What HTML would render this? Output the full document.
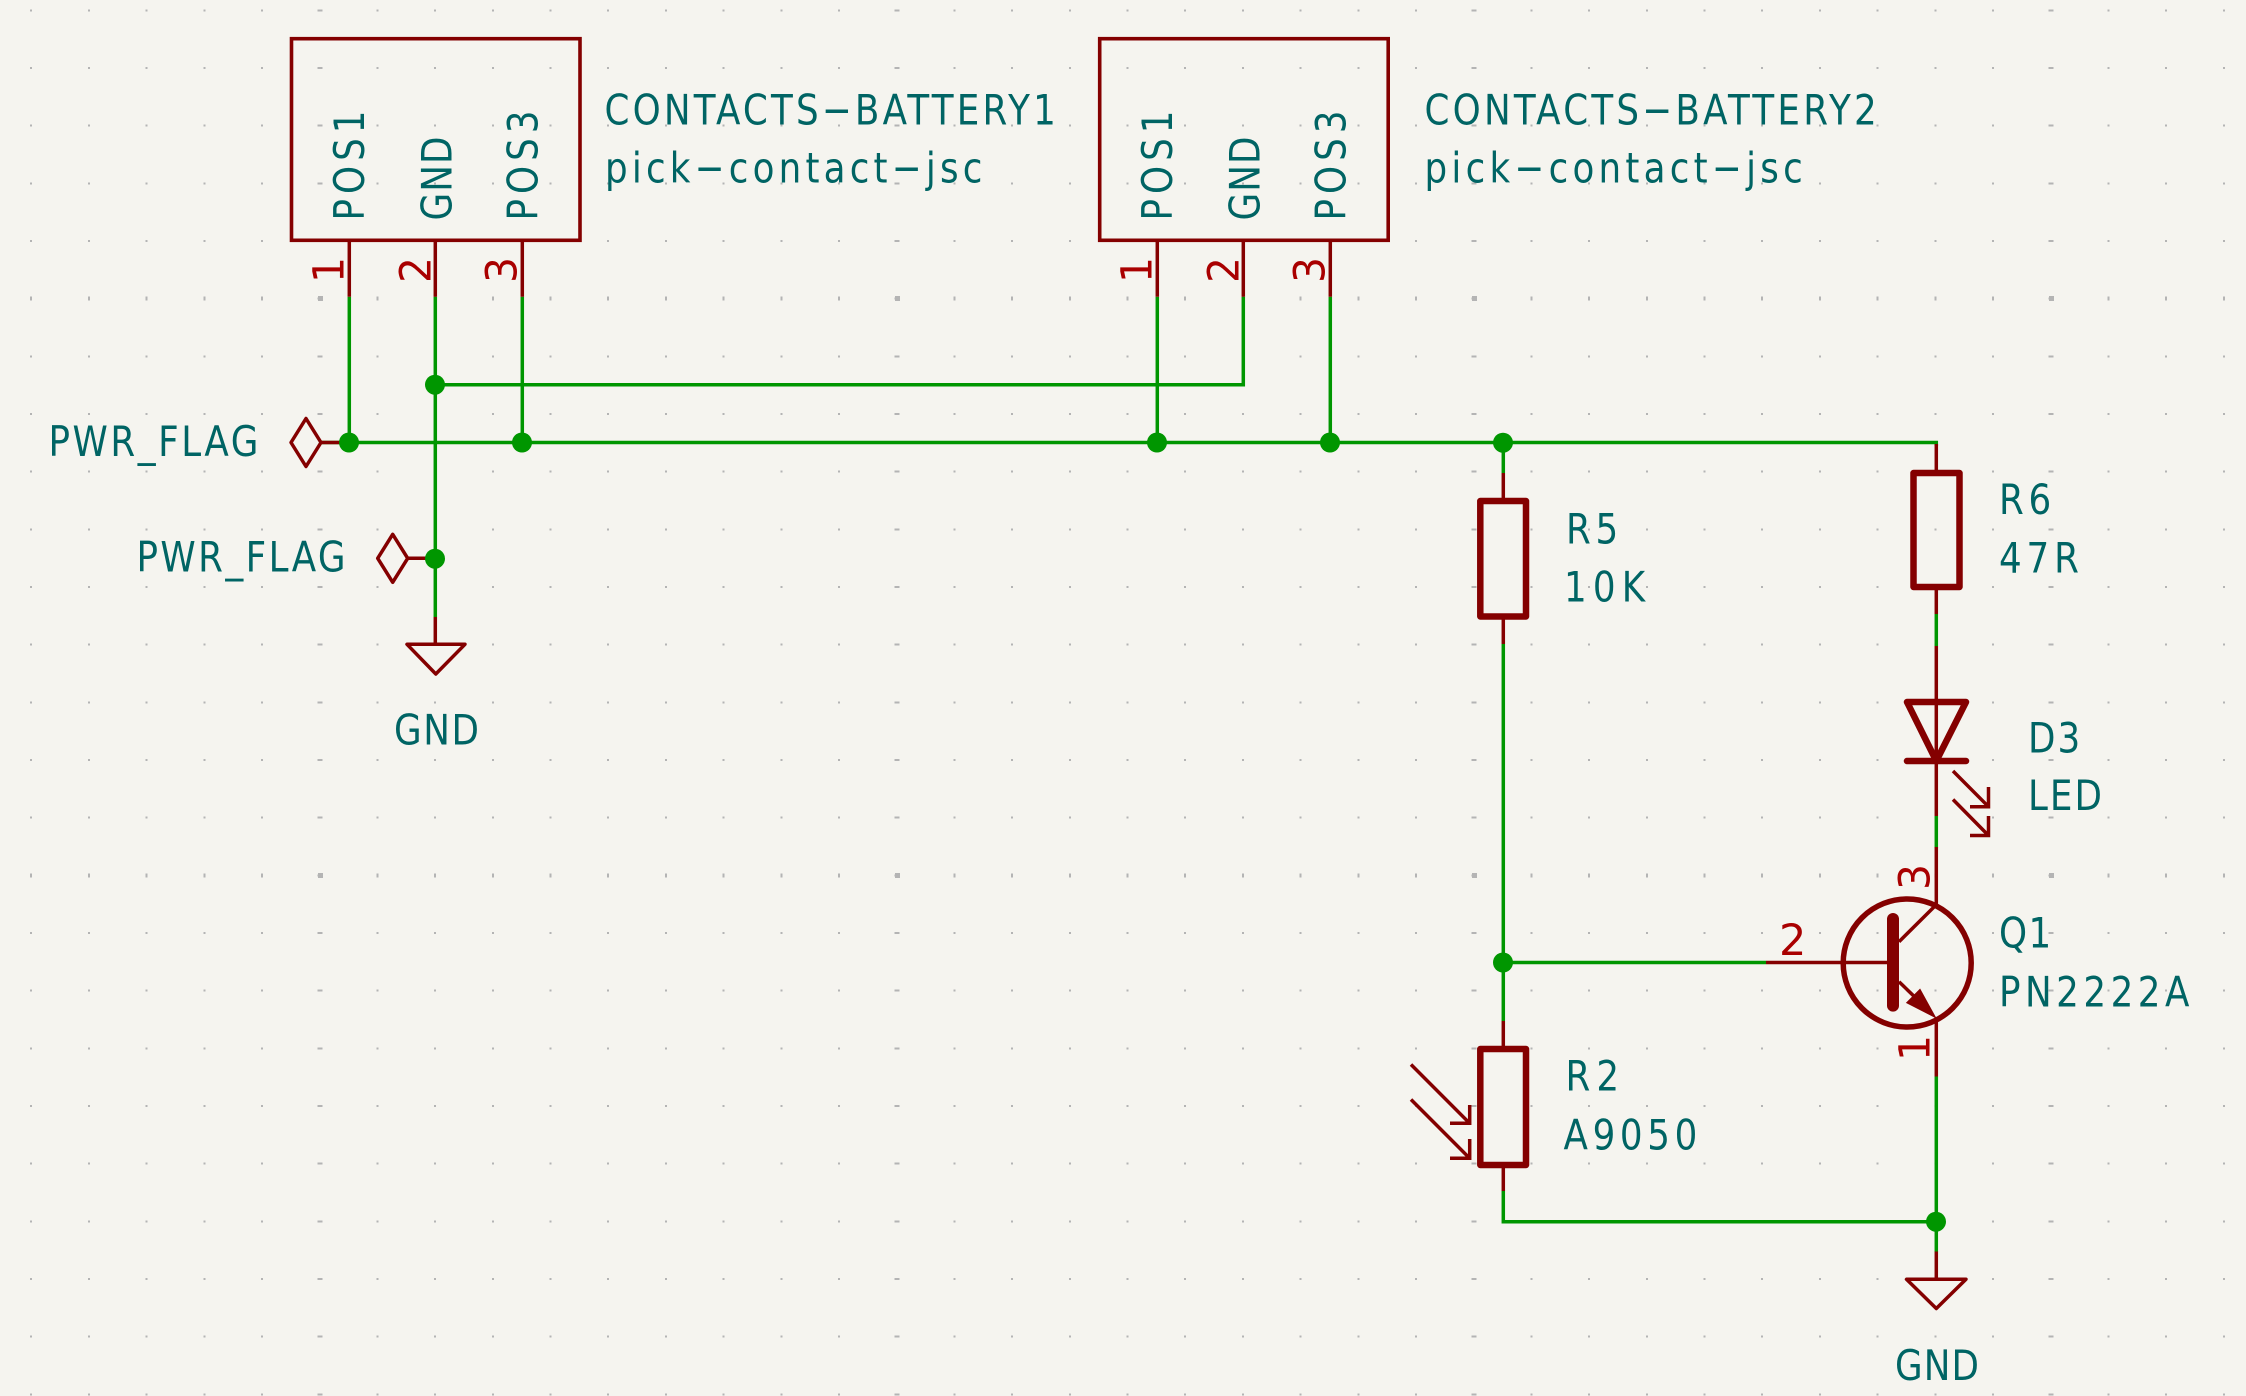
<!DOCTYPE html>
<html>
<head>
<meta charset="utf-8">
<title>Schematic</title>
<style>
html,body{margin:0;padding:0;background:#f5f4ef;width:2246px;height:1396px;overflow:hidden}
svg{display:block}
text{font-family:"DejaVu Sans","Liberation Sans",sans-serif;font-size:42px;fill:#006464}
.pn{fill:#a90000;font-size:43px}
.w{stroke:#009600;stroke-width:3.5;fill:none;stroke-linejoin:miter}
.l{stroke:#840000;stroke-width:3.5;fill:none}
.b{stroke:#840000;stroke-width:6.5;fill:none;stroke-linejoin:round;stroke-linecap:round}
.g{stroke:#b4b4b4;stroke-width:2;stroke-dasharray:2 55.7;shape-rendering:crispEdges}
.gr{stroke:#b4b4b4;stroke-width:2;stroke-dasharray:2 55.67;shape-rendering:crispEdges}
</style>
</head>
<body>
<svg width="2246" height="1396" viewBox="0 0 2246 1396" xmlns="http://www.w3.org/2000/svg">
<rect width="2246" height="1396" fill="#f5f4ef"/>
<!-- grid rows -->
<g class="g">
<line x1="30.2" x2="2246" y1="10.3" y2="10.3"/>
<line x1="30.2" x2="2246" y1="68" y2="68"/>
<line x1="30.2" x2="2246" y1="125.6" y2="125.6"/>
<line x1="30.2" x2="2246" y1="183.3" y2="183.3"/>
<line x1="30.2" x2="2246" y1="241" y2="241"/>
<line x1="30.2" x2="2246" y1="298.6" y2="298.6" style="stroke-width:4"/>
<line x1="30.2" x2="2246" y1="356.3" y2="356.3"/>
<line x1="30.2" x2="2246" y1="414" y2="414"/>
<line x1="30.2" x2="2246" y1="471.6" y2="471.6"/>
<line x1="30.2" x2="2246" y1="529.3" y2="529.3"/>
<line x1="30.2" x2="2246" y1="587" y2="587"/>
<line x1="30.2" x2="2246" y1="644.6" y2="644.6"/>
<line x1="30.2" x2="2246" y1="702.3" y2="702.3"/>
<line x1="30.2" x2="2246" y1="760" y2="760"/>
<line x1="30.2" x2="2246" y1="817.6" y2="817.6"/>
<line x1="30.2" x2="2246" y1="875.3" y2="875.3" style="stroke-width:4"/>
<line x1="30.2" x2="2246" y1="933" y2="933"/>
<line x1="30.2" x2="2246" y1="990.6" y2="990.6"/>
<line x1="30.2" x2="2246" y1="1048.3" y2="1048.3"/>
<line x1="30.2" x2="2246" y1="1106" y2="1106"/>
<line x1="30.2" x2="2246" y1="1163.6" y2="1163.6"/>
<line x1="30.2" x2="2246" y1="1221.3" y2="1221.3"/>
<line x1="30.2" x2="2246" y1="1279" y2="1279"/>
<line x1="30.2" x2="2246" y1="1336.6" y2="1336.6"/>
<line x1="30.2" x2="2246" y1="1394.3" y2="1394.3"/>
</g>
<!-- major columns -->
<g class="gr" style="stroke-width:5">
<line x1="320" x2="320" y1="9.3" y2="1396"/>
<line x1="897" x2="897" y1="9.3" y2="1396"/>
<line x1="1474" x2="1474" y1="9.3" y2="1396"/>
<line x1="2051" x2="2051" y1="9.3" y2="1396"/>
</g>
<g fill="#b4b4b4" shape-rendering="crispEdges">
<rect x="318" y="296" width="5" height="5"/><rect x="895" y="296" width="5" height="5"/><rect x="1472" y="296" width="5" height="5"/><rect x="2049" y="296" width="5" height="5"/>
<rect x="318" y="873" width="5" height="5"/><rect x="895" y="873" width="5" height="5"/><rect x="1472" y="873" width="5" height="5"/><rect x="2049" y="873" width="5" height="5"/>
</g>

<!-- wires -->
<g class="w">
<path d="M349.3 296.7V442.5"/>
<path d="M522.3 296.7V442.5"/>
<path d="M435.3 296.7V617"/>
<path d="M435.3 384.7H1243.3V296.7"/>
<path d="M1157.3 296.7V442.5"/>
<path d="M1330.3 296.7V442.5"/>
<path d="M321 442.5H1936.3V446"/>
<path d="M1503.3 442.5V473"/>
<path d="M1503.3 644V1021"/>
<path d="M1503.3 962.5H1766"/>
<path d="M1503.3 1191V1221.7H1936.3"/>
<path d="M1936.3 614V646"/>
<path d="M1936.3 816V847.5"/>
<path d="M1936.3 1076.5V1252"/>
</g>

<!-- symbol thin lines -->
<g class="l">
<rect x="291.5" y="38.7" width="288.5" height="201.6" stroke-width="3.6"/>
<rect x="1099.7" y="38.7" width="288.5" height="201.6" stroke-width="3.6"/>
<path d="M349.3 240V296.7M435.3 240V296.7M522.3 240V296.7"/>
<path d="M1157.3 240V296.7M1243.3 240V296.7M1330.3 240V296.7"/>
<path d="M321 442.5H349"/>
<path d="M407.7 558.3H435"/>
<path d="M306 418.5L321 442.5L306 466.5L291 442.5Z" stroke-linejoin="round"/>
<path d="M392.7 534.3L407.7 558.3L392.7 582.3L377.7 558.3Z" stroke-linejoin="round"/>
<path d="M435.3 617V644.3"/>
<path d="M407 644.3H465L435.8 674Z" stroke-linejoin="round"/>
<path d="M1936.3 1251.5V1279.3"/>
<path d="M1906.5 1279.3H1966L1936.3 1308.5Z" stroke-linejoin="round"/>
<path d="M1503.3 473V498M1503.3 619V644"/>
<path d="M1503.3 1021V1046M1503.3 1168V1191"/>
<path d="M1936.3 444V470M1936.3 590V614"/>
<path d="M1936.3 646V816M1936.3 847V907"/>
<path d="M1936.3 1017V1076.5"/>
<path d="M1766 962.5H1893"/>
<path d="M1899 941.7L1936 905"/>
<path d="M1899 981.7L1921 1003"/>
<!-- led arrows -->
<path d="M1953 771L1988.5 806.7M1988.5 787V806.7H1970"/>
<path d="M1953 799.5L1988.5 835.5M1988.5 816V835.5H1970"/>
<!-- photo arrows -->
<path d="M1411 1064.5L1469.7 1123.3M1469.7 1105V1123.3H1450"/>
<path d="M1411 1099.5L1469.7 1158.3M1469.7 1139V1158.3H1450"/>
</g>

<!-- heavy bodies -->
<g class="b">
<rect x="1480.3" y="501" width="45.7" height="115.5"/>
<rect x="1913.5" y="473" width="46" height="114"/>
<rect x="1480.3" y="1049" width="45.7" height="116"/>
<path d="M1907 702H1966L1936.3 761Z"/>
<path d="M1907 761H1966"/>
<circle cx="1907.2" cy="963" r="64" stroke-width="5.5"/>
<path d="M1893 919V1005.6" stroke-width="12"/>
</g>
<path d="M1935.5 1017.5L1920 989.3L1906.7 1002.7Z" fill="#840000" stroke="#840000" stroke-width="1"/>

<!-- junctions -->
<g fill="#009600">
<circle cx="349" cy="442.5" r="10"/>
<circle cx="522" cy="442.5" r="10"/>
<circle cx="435" cy="384.7" r="10"/>
<circle cx="435" cy="558.7" r="10"/>
<circle cx="1157" cy="442.5" r="10"/>
<circle cx="1330" cy="442.5" r="10"/>
<circle cx="1503" cy="442.7" r="10"/>
<circle cx="1503" cy="962.5" r="10"/>
<circle cx="1936" cy="1221.7" r="10"/>
</g>

<!-- labels -->
<text transform="translate(604.5 124.5) scale(.85 1)" textLength="531">CONTACTS−BATTERY1</text>
<text transform="translate(605 182.5) scale(.85 1)" textLength="444">pick−contact−jsc</text>
<text transform="translate(1424.5 124.5) scale(.85 1)" textLength="532">CONTACTS−BATTERY2</text>
<text transform="translate(1424.5 182.5) scale(.85 1)" textLength="445">pick−contact−jsc</text>
<text transform="translate(48.5 456) scale(.85 1)" textLength="247">PWR_FLAG</text>
<text transform="translate(136.5 571.5) scale(.85 1)" textLength="246">PWR_FLAG</text>
<text transform="translate(394 744.5) scale(.85 1)" textLength="100">GND</text>
<text transform="translate(1895 1380.2) scale(.85 1)" textLength="98.8">GND</text>
<text transform="translate(1566 543.5) scale(.85 1)" textLength="61.5">R5</text>
<text transform="translate(1564 601.5) scale(.85 1)" textLength="95.5">10K</text>
<text transform="translate(1999 514) scale(.85 1)" textLength="61.5">R6</text>
<text transform="translate(1999 572.5) scale(.85 1)" textLength="94">47R</text>
<text transform="translate(2028 752.3) scale(.85 1)" textLength="61.5">D3</text>
<text transform="translate(2028 810.2) scale(.85 1)" textLength="87">LED</text>
<text transform="translate(1999 947.3) scale(.85 1)" textLength="61.5">Q1</text>
<text transform="translate(1999 1006.5) scale(.85 1)" textLength="224">PN2222A</text>
<text transform="translate(1565.5 1090.5) scale(.85 1)" textLength="63">R2</text>
<text transform="translate(1563.5 1149.3) scale(.85 1)" textLength="157.5">A9050</text>

<!-- pin names -->
<text transform="translate(364 220.5) rotate(-90) scale(.85 1)" textLength="129.4">POS1</text>
<text transform="translate(451.3 220.5) rotate(-90) scale(.85 1)" textLength="98.8">GND</text>
<text transform="translate(537.3 220.5) rotate(-90) scale(.85 1)" textLength="129.4">POS3</text>
<text transform="translate(1172 220.5) rotate(-90) scale(.85 1)" textLength="129.4">POS1</text>
<text transform="translate(1259.3 220.5) rotate(-90) scale(.85 1)" textLength="98.8">GND</text>
<text transform="translate(1345.3 220.5) rotate(-90) scale(.85 1)" textLength="129.4">POS3</text>

<!-- pin numbers -->
<text class="pn" transform="translate(343.3 283) rotate(-90) scale(.95 1)">1</text>
<text class="pn" transform="translate(430.7 283) rotate(-90) scale(.95 1)">2</text>
<text class="pn" transform="translate(516.5 283) rotate(-90) scale(.95 1)">3</text>
<text class="pn" transform="translate(1151.3 283) rotate(-90) scale(.95 1)">1</text>
<text class="pn" transform="translate(1238.7 283) rotate(-90) scale(.95 1)">2</text>
<text class="pn" transform="translate(1324.5 283) rotate(-90) scale(.95 1)">3</text>
<text class="pn" transform="translate(1779 955)">2</text>
<text class="pn" transform="translate(1929.5 890) rotate(-90) scale(.95 1)">3</text>
<text class="pn" transform="translate(1929.5 1061) rotate(-90) scale(.95 1)">1</text>
</svg>
</body>
</html>
